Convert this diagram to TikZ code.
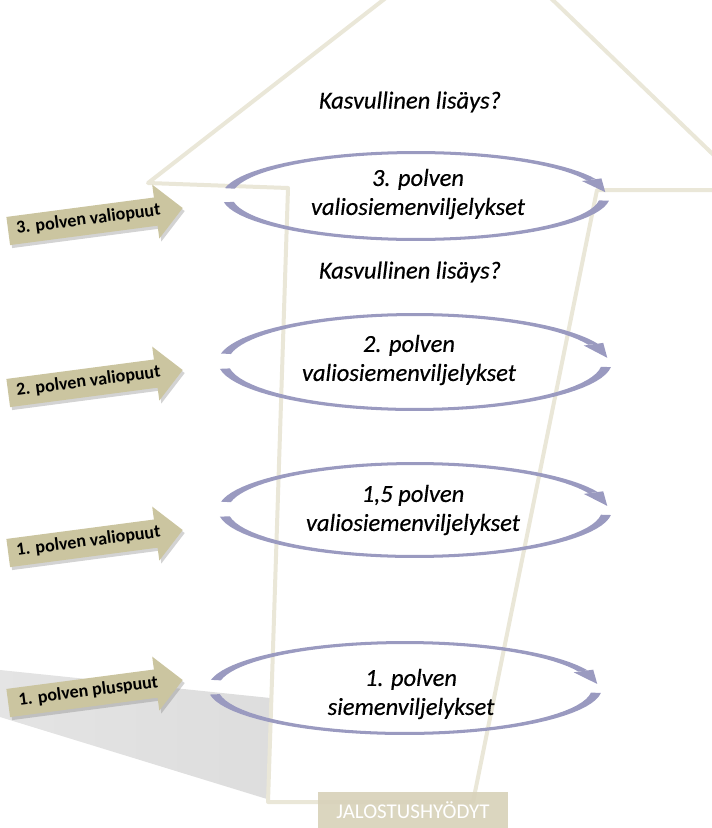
\documentclass[tikz,border=0pt]{standalone}
\usepackage{fontspec}
\setmainfont{Carlito}
\usetikzlibrary{calc,shapes.arrows,shadows}
\definecolor{kehys}{HTML}{EAE7D8}
\definecolor{lila}{HTML}{9A9AC0}
\definecolor{khaki}{HTML}{CBC5A0}
\definecolor{hiekka}{HTML}{D8D2BA}
\definecolor{varjo}{HTML}{DDDDDD}

\begin{document}
\begin{tikzpicture}[x=1pt,y=-1pt,line join=round,
    tanarrow/.style={single arrow,fill=khaki,minimum height=176pt,
      single arrow head extend=13pt,inner ysep=6pt,inner xsep=3pt,
      text height=12pt,text depth=4pt,font=\bfseries\fontsize{18}{18}\selectfont,
      drop shadow={shadow xshift=2pt,shadow yshift=-3pt,opacity=.35},
      rotate=7.5,anchor=tip},
    kierto/.style={font=\itshape\addfontfeature{FakeBold=0.4}\fontsize{24.5}{29}\selectfont,
      align=center,inner sep=0pt}]
  \useasboundingbox (0,0) rectangle (712,828);
  \begin{scope}
    \clip (0,0) rectangle (712,828);
    \shade[left color=varjo!80,right color=varjo] (0,670) -- (280,699) -- (280,803) -- (0,717) -- cycle;
    \coordinate (S1) at (288,188);
    \coordinate (L)  at (148,183);
    \coordinate (H)  at (477,-73);
    \coordinate (R)  at (750,190);
    \coordinate (S2) at (597,190);
    \coordinate (S3) at (473,802);
    \coordinate (S4) at (268,802);
    \filldraw[fill=white,draw=kehys,line width=4pt] (S1) -- (L) -- (H) -- (R) -- (S2) -- (S3) -- (S4) -- cycle;
  \end{scope}
  \foreach \cx/\cy/\R/\r in {416/196/194/45, 415/362/197/49, 415/510/197/48, 405/688/197/47}{
    \fill[lila] plot[domain=22:170,samples=40,variable=\t] ({\cx+\R*cos(\t)},{\cy-\r*sin(\t)})
      -- plot[domain=170:22,samples=40,variable=\t] ({\cx+(\R-10)*cos(\t)},{\cy-(\r-3)*sin(\t)}) -- cycle;
    \fill[lila] plot[domain=-6:-172,samples=40,variable=\t] ({\cx+\R*cos(\t)},{\cy-\r*sin(\t)})
      -- plot[domain=-172:-6,samples=40,variable=\t] ({\cx+(\R-10)*cos(\t)},{\cy-(\r-3)*sin(\t)}) -- cycle;
    \fill[lila] ({\cx+(\R+6)*cos(22)},{\cy-(\r+2)*sin(22)}) -- ({\cx+(\R-4)*cos(5)},{\cy-(\r-1)*sin(5)})
      -- ({\cx+(\R-15)*cos(22)},{\cy-(\r-5)*sin(22)}) -- cycle;
  }
  \node[kierto] (k2) at (410,102) {Kasvullinen lisäys?};
  \node[kierto] (k1) at (410,272) {Kasvullinen lisäys?};
  \node[kierto] (p3) at (418,194) {3. polven\\valiosiemenviljelykset};
  \node[kierto] (p2) at (409,360) {2. polven\\valiosiemenviljelykset};
  \node[kierto] (p15) at (413,510) {1,5 polven\\valiosiemenviljelykset};
  \node[kierto] (p1) at (411,694) {1. polven\\siemenviljelykset};
  \foreach \y/\txt [count=\i] in {208/3. polven valiopuut, 370/2. polven valiopuut,
      530/1. polven valiopuut, 680/1. polven pluspuut}
    \node[tanarrow] (v\i) at (183,\y) {\txt};
  \node[fill=hiekka,fill opacity=.92,text opacity=1,text=white,minimum width=190pt,minimum height=37pt,
    inner sep=0pt,font=\fontsize{21}{21}\selectfont] (jh) at (413,810) {JALOSTUSHYÖDYT};
\end{tikzpicture}
\end{document}
